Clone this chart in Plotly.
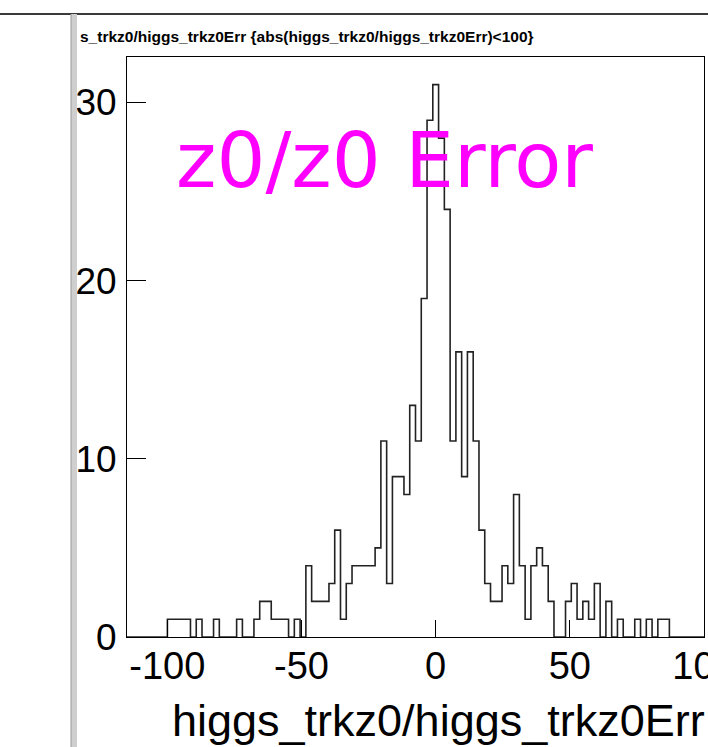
import numpy as np
import plotly.graph_objects as go

# ---- histogram of higgs_trkz0/higgs_trkz0Err, 100 equal bins ----
x_min = -115.0
x_max = 100.0
counts = [
    0, 0, 0, 0, 0, 0, 0, 1, 1, 1,
    1, 0, 1, 0, 0, 1, 0, 0, 0, 1,
    0, 0, 1, 2, 2, 1, 1, 1, 0, 1,
    0, 4, 2, 2, 2, 3, 6, 1, 3, 4,
    4, 4, 4, 5, 11, 3, 9, 9, 8, 13,
    11, 19, 29, 31, 28, 24, 11, 16, 9, 16,
    11, 6, 3, 2, 2, 4, 3, 8, 4, 1,
    4, 5, 4, 2, 0, 0, 2, 3, 1, 2,
    1, 3, 0, 2, 0, 1, 0, 0, 1, 0,
    1, 0, 1, 1, 0, 0, 0, 0, 0, 0,
]
assert len(counts) == 100

x_ticks = [-100, -50, 0, 50, 100]
y_ticks = [0, 10, 20, 30]
y_max = 1.05 * max(counts)

title_text = "s_trkz0/higgs_trkz0Err {abs(higgs_trkz0/higgs_trkz0Err)<100}"
x_title = "higgs_trkz0/higgs_trkz0Err"
label_text = "z0/z0 Error"

# ---- canvas geometry (pixels) ----
W, H = 708, 747
L, R, T, B = 127, 4, 57, 110
PW = W - L - R
PH = H - T - B


def px(x):
    return (x - L) / PW


def py(y):
    return (H - B - y) / PH


edges = np.linspace(x_min, x_max, len(counts) + 1)
xs = list(edges)
ys = list(counts) + [counts[-1]]

fig = go.Figure()
fig.add_trace(go.Scatter(
    x=[edges[0]] + xs + [edges[-1]],
    y=[0] + ys + [0],
    mode="lines",
    line=dict(shape="hv", color="#222222", width=1.6),
    hoverinfo="skip",
    showlegend=False,
))

font_family = "Liberation Sans, Arial, sans-serif"

fig.update_layout(
    width=W,
    height=H,
    margin=dict(l=L, r=R, t=T, b=B, pad=0, autoexpand=False),
    paper_bgcolor="white",
    plot_bgcolor="white",
    showlegend=False,
    xaxis=dict(
        range=[x_min, x_max + 1e-6],
        tickvals=x_ticks,
        ticktext=[str(v) for v in x_ticks],
        ticks="inside",
        ticklen=17,
        tickwidth=1,
        tickcolor="black",
        showline=True,
        linecolor="black",
        linewidth=1,
        mirror=True,
        showgrid=False,
        zeroline=False,
        tickfont=dict(family=font_family, size=38, color="black"),
        ticklabelstandoff=-5,
        ticklabeloverflow="allow",
        automargin=False,
        fixedrange=True,
    ),
    yaxis=dict(
        range=[0, y_max],
        tickvals=y_ticks,
        ticks="inside",
        ticklen=19,
        tickwidth=1,
        tickcolor="black",
        showline=True,
        linecolor="black",
        linewidth=1,
        mirror=True,
        showgrid=False,
        zeroline=False,
        tickfont=dict(family=font_family, size=37, color="black"),
        ticklabelstandoff=2,
        ticklabeloverflow="allow",
        automargin=False,
        fixedrange=True,
    ),
)

# window chrome: top rule and the grey splitter on the left
fig.add_shape(type="line", xref="paper", yref="paper",
              x0=px(0), x1=px(W), y0=py(14), y1=py(14),
              line=dict(color="#3a3a3a", width=2), layer="above")
fig.add_shape(type="rect", xref="paper", yref="paper",
              x0=px(71), x1=px(77), y0=py(14), y1=py(H),
              fillcolor="#cfcfcf", line=dict(width=0), layer="above")
fig.add_shape(type="line", xref="paper", yref="paper",
              x0=px(71), x1=px(71), y0=py(14), y1=py(H),
              line=dict(color="#9a9a9a", width=1), layer="above")

# histogram title (left part hidden behind the splitter)
fig.add_annotation(
    text="<b>" + title_text + "</b>", xref="paper", yref="paper",
    x=px(78), y=py(37), xanchor="left", yanchor="middle",
    showarrow=False,
    font=dict(family=font_family, size=15.5, color="black"),
)

# x-axis title, right-aligned at the end of the axis
fig.add_annotation(
    text=x_title, xref="paper", yref="paper",
    x=px(707), y=py(720), xanchor="right", yanchor="middle",
    showarrow=False,
    font=dict(family=font_family, size=45, color="black"),
)

# magenta label inside the frame
fig.add_annotation(
    text=label_text, xref="paper", yref="paper",
    x=px(384.5), y=py(160), xanchor="center", yanchor="middle",
    showarrow=False,
    font=dict(family="DejaVu Sans, sans-serif", size=77, color="#ff00ff"),
)

fig.write_html("out.html", config={"displayModeBar": False})
